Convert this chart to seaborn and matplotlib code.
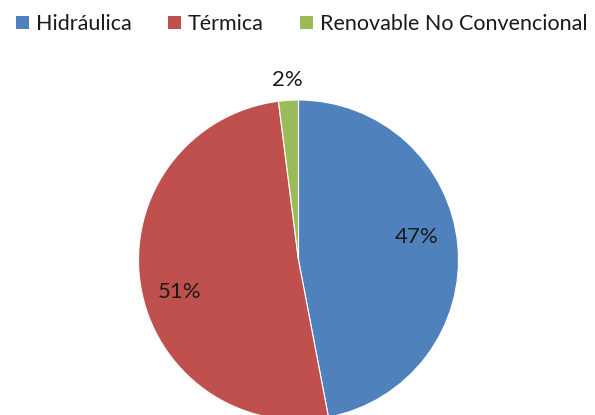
import numpy as np
import matplotlib
matplotlib.use("Agg")
import matplotlib.pyplot as plt
import seaborn as sns
from matplotlib.patches import Patch

categories = ["Hidráulica", "Térmica", "Renovable No Convencional"]
values = [47, 51, 2]
colors = ["#4F81BD", "#C0504D", "#9BBB59"]

sns.set_theme(style="white")
plt.rcParams['font.family'] = ['Lato', 'DejaVu Sans']

W, H = 595, 415
fig = plt.figure(figsize=(W / 100, H / 100), dpi=100)
fig.patch.set_facecolor("white")

cx, cy, r = 298.5, 260, 160
ax = fig.add_axes([(cx - r) / W, (H - cy - r) / H, 2 * r / W, 2 * r / H])

wedges, _ = ax.pie(values, colors=colors, startangle=90, counterclock=False,
                   radius=1, wedgeprops=dict(linewidth=0.8, edgecolor="white"))
ax.set_xlim(-1, 1)
ax.set_ylim(-1, 1)
ax.set_aspect("equal")
ax.axis("off")
for w in wedges:
    w.set_clip_on(False)

label_dist = [0.754, 0.767, 1.127]
label_shift = [-5.6, -6.1, 0]
for w, v, d, s in zip(wedges, values, label_dist, label_shift):
    mid = np.deg2rad((w.theta1 + w.theta2) / 2 - s)
    ax.text(d * np.cos(mid), d * np.sin(mid), f"{v}%", ha="center", va="center",
            fontsize=16, color="#1a1a1a", clip_on=False)

handles = [Patch(facecolor=c, edgecolor="none") for c in colors]
fig.legend(handles, categories, ncol=3, loc="center",
           bbox_to_anchor=(0.507, 0.942), frameon=False, fontsize=15.5,
           handlelength=0.6, handleheight=0.6, handletextpad=0.33,
           columnspacing=1.67, labelcolor="#1a1a1a")

fig.savefig("out.png", dpi=100, facecolor="white")
